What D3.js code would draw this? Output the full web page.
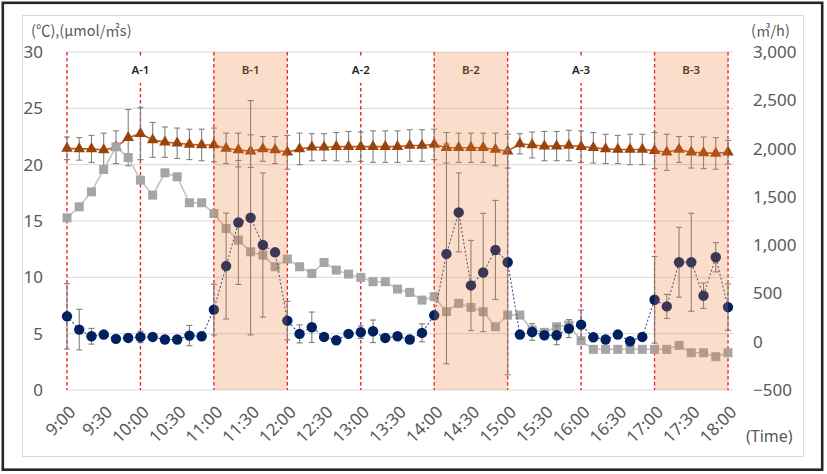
<!DOCTYPE html>
<html><head><meta charset="utf-8">
<script src="https://cdn.jsdelivr.net/npm/d3@7/dist/d3.min.js"></script>
<style>body{margin:0;background:#fff}svg{display:block}</style>
</head><body>
<svg id="c" width="827" height="474"></svg>
<script>
const times = ["9:00","9:10","9:20","9:30","9:40","9:50","10:00","10:10","10:20","10:30","10:40","10:50",
"11:00","11:10","11:20","11:30","11:40","11:50","12:00","12:10","12:20","12:30","12:40","12:50",
"13:00","13:10","13:20","13:30","13:40","13:50","14:00","14:10","14:20","14:30","14:40","14:50",
"15:00","15:10","15:20","15:30","15:40","15:50","16:00","16:10","16:20","16:30","16:40","16:50",
"17:00","17:10","17:20","17:30","17:40","17:50","18:00"];
const xTickLabels = ["9:00","9:30","10:00","10:30","11:00","11:30","12:00","12:30","13:00","13:30","14:00","14:30","15:00","15:30","16:00","16:30","17:00","17:30","18:00"];
const leftTicks = [0,5,10,15,20,25,30];
const rightTicks = [-500,0,500,1000,1500,2000,2500,3000];
const dividerTimes = ["9:00","10:00","11:00","12:00","13:00","14:00","15:00","16:00","17:00","18:00"];
const bandStarts = ["11:00","14:00","17:00"];
const bandEnds = ["12:00","15:00","18:00"];
const phaseLabels = ["A-1","B-1","A-2","B-2","A-3","B-3"];
const phaseLabelTimes = ["10:00","11:30","13:00","14:30","16:00","17:30"];

// temperature (triangles, left axis)
const temp = [21.45,21.4,21.4,21.3,21.55,22.4,22.75,22.2,22.0,21.9,21.8,21.75,
21.75,21.45,21.3,21.2,21.4,21.3,21.1,21.4,21.55,21.55,21.6,21.6,
21.6,21.6,21.6,21.6,21.7,21.7,21.8,21.5,21.5,21.5,21.5,21.35,
21.2,21.85,21.75,21.65,21.65,21.7,21.6,21.5,21.4,21.35,21.35,21.35,
21.25,21.1,21.35,21.1,21.05,21.0,21.1];
const tempErr = [1.0,1.0,1.2,1.5,1.45,2.5,2.3,1.55,1.35,1.35,1.35,1.4,
1.5,1.35,1.5,1.45,1.1,1.2,1.5,1.4,1.2,1.2,1.25,1.35,
1.3,1.4,1.4,1.4,1.4,1.4,1.35,1.35,1.3,1.3,1.3,1.45,
1.5,0.9,1.15,1.3,1.3,1.35,1.4,1.35,1.3,1.25,1.35,1.35,
1.6,1.6,1.15,1.4,1.4,1.4,1.05];
// flow rate (squares, right axis)
const flow = [1283,1397,1552,1784,2018,1908,1673,1518,1749,1708,1439,1439,
1328,1173,1052,931,897,776,856,776,707,821,742,700,
666,621,621,545,511,431,466,311,397,355,311,155,
276,276,121,97,155,172,10,-79,-79,-79,-79,-79,
-79,-79,-38,-114,-114,-155,-114];
// circles (left axis)
const flux = [6.54,5.36,4.77,4.92,4.54,4.62,4.71,4.71,4.48,4.48,4.83,4.77,
7.13,11.0,14.87,15.29,12.87,12.22,6.16,4.98,5.57,4.71,4.42,4.98,
5.13,5.21,4.62,4.77,4.48,5.07,6.63,12.08,15.76,9.28,10.43,12.43,
11.34,4.92,5.15,4.86,4.86,5.45,5.8,4.68,4.48,4.92,4.33,4.71,
8.01,7.42,11.34,11.34,8.37,11.78,7.36];
const fluxErr = [2.9,1.8,0.7,0.2,0.2,0.2,0.5,0.2,0.2,0.2,0.9,0.2,
2.25,4.7,5.5,10.4,6.4,0.3,1.7,0.8,1.35,0.2,0.2,0.2,
0.55,1.0,0.2,0.2,0.2,0.8,0.3,9.75,3.5,4.0,5.25,4.4,
10.0,0.3,0.74,0.3,0.84,0.8,1.3,0.2,0.2,0.3,0.2,0.2,
3.85,1.07,3.1,4.35,1.13,1.3,2.05];

const svg = d3.select("#c");
const L = 67, R = 728, GR = 734, T = 52, B = 390;
const x = d3.scalePoint().domain(times).range([L, R]);
const yL = d3.scaleLinear().domain([0,30]).range([B, T]);
const yR = d3.scaleLinear().domain([-500,3000]).range([B, T]);

// frames
svg.append("rect").attr("x",2.8).attr("y",2.8).attr("width",819.4).attr("height",466.9)
  .attr("fill","#fff").attr("stroke","#262626").attr("stroke-width",2.6);
svg.append("rect").attr("x",22.5).attr("y",15.5).attr("width",781).attr("height",441)
  .attr("fill","none").attr("stroke","#d9d9d9").attr("stroke-width",1);

// gridlines
svg.append("g").selectAll("line").data(leftTicks).join("line")
  .attr("x1",L).attr("x2",GR).attr("y1",d=>yL(d)).attr("y2",d=>yL(d))
  .attr("stroke","#d9d9d9").attr("stroke-width",1);

// dashed dividers
svg.append("g").selectAll("line").data(dividerTimes).join("line")
  .attr("x1",d=>x(d)).attr("x2",d=>x(d)).attr("y1",T).attr("y2",B)
  .attr("stroke","#e8252b").attr("stroke-width",1.4).attr("stroke-dasharray","3.5,2.5");

const font = "'Noto Sans', 'Noto Sans CJK KR', sans-serif";

// axes
const ax = d3.axisBottom(x).tickValues(xTickLabels).tickSize(0).tickPadding(0);
const gx = svg.append("g").attr("transform",`translate(0,${B})`).call(ax);
gx.select(".domain").remove();
gx.selectAll("text").attr("font-family",font).attr("font-size",17).attr("fill","#595959")
  .attr("text-anchor","end").attr("dy","0.35em")
  .attr("transform","translate(5,19) rotate(-45)");

const gl = svg.append("g").attr("transform",`translate(${L},0)`)
  .call(d3.axisLeft(yL).tickValues(leftTicks).tickSize(0).tickPadding(24));
gl.select(".domain").remove();
gl.selectAll("text").attr("font-family",font).attr("font-size",17).attr("fill","#595959");

const gr = svg.append("g").attr("transform",`translate(${GR},0)`)
  .call(d3.axisRight(yR).tickValues(rightTicks).tickSize(0).tickPadding(19).tickFormat(d3.format(",")));
gr.select(".domain").remove();
gr.selectAll("text").attr("font-family",font).attr("font-size",17).attr("fill","#595959");

svg.append("text").attr("x",31).attr("y",36).attr("font-family","'Noto Sans CJK KR', sans-serif")
  .attr("font-size",14.5).attr("fill","#595959").text("(℃),(μmol/㎡s)");
svg.append("text").attr("x",751).attr("y",36).attr("font-family","'Noto Sans CJK KR', sans-serif")
  .attr("font-size",14.5).attr("fill","#595959").text("(㎥/h)");
svg.append("text").attr("x",746).attr("y",442).attr("font-family",font)
  .attr("font-size",16).attr("fill","#595959").text("(Time)");

// phase labels
const pl = svg.append("g");
phaseLabels.forEach((lab,i)=>{
  const cx = x(phaseLabelTimes[i]);
  if (lab[0]==="A") pl.append("rect").attr("x",cx-16).attr("y",58).attr("width",32).attr("height",25).attr("fill","#fff");
  pl.append("text").attr("x",cx).attr("y",74).attr("text-anchor","middle")
    .attr("font-family",font).attr("font-size",11.5).attr("font-weight",600).attr("fill","#262626").text(lab);
});

function errBars(g, vals, errs, y, color){
  const cap = 3;
  const gg = g.append("g").attr("stroke",color).attr("stroke-width",1.1);
  times.forEach((t,i)=>{
    const cx = x(t), y1 = y(vals[i]+errs[i]), y2 = y(vals[i]-errs[i]);
    gg.append("line").attr("x1",cx).attr("x2",cx).attr("y1",y1).attr("y2",y2);
    gg.append("line").attr("x1",cx-cap).attr("x2",cx+cap).attr("y1",y1).attr("y2",y1);
    gg.append("line").attr("x1",cx-cap).attr("x2",cx+cap).attr("y1",y2).attr("y2",y2);
  });
}

// temperature series
const gT = svg.append("g");
errBars(gT, temp, tempErr, yL, "#808080");
gT.append("path").datum(temp).attr("fill","none").attr("stroke","#b5611f").attr("stroke-width",1.6)
  .attr("d", d3.line().x((d,i)=>x(times[i])).y(d=>yL(d)));
gT.selectAll("path.m").data(temp).join("path").attr("class","m")
  .attr("transform",(d,i)=>`translate(${x(times[i])},${yL(d)})`)
  .attr("d", d3.symbol().type(d3.symbolTriangle).size(58)).attr("fill","#9c430c");

// flow series
const gF = svg.append("g");
gF.append("path").datum(flow).attr("fill","none").attr("stroke","#bfbfbf").attr("stroke-width",1.5)
  .attr("d", d3.line().x((d,i)=>x(times[i])).y(d=>yR(d)));
gF.selectAll("rect").data(flow).join("rect")
  .attr("x",(d,i)=>x(times[i])-4.5).attr("y",d=>yR(d)-4.5).attr("width",9).attr("height",9)
  .attr("fill","#a5a5a5");

// flux series
const gC = svg.append("g");
errBars(gC, flux, fluxErr, yL, "#7f7f7f");
gC.append("path").datum(flux).attr("fill","none").attr("stroke","#2f4f8f").attr("stroke-width",1.1)
  .attr("stroke-dasharray","2,2")
  .attr("d", d3.line().x((d,i)=>x(times[i])).y(d=>yL(d)));
gC.selectAll("circle").data(flux).join("circle")
  .attr("cx",(d,i)=>x(times[i])).attr("cy",d=>yL(d)).attr("r",5.2).attr("fill","#002060");

// shaded bands (semi-transparent overlay)
svg.append("g").selectAll("rect").data(bandStarts).join("rect")
  .attr("x",(d)=>x(d)).attr("y",T).attr("width",(d,i)=>x(bandEnds[i])-x(d)).attr("height",B-T)
  .attr("fill","#ed7d31").attr("fill-opacity",0.25);
</script>
</body></html>
